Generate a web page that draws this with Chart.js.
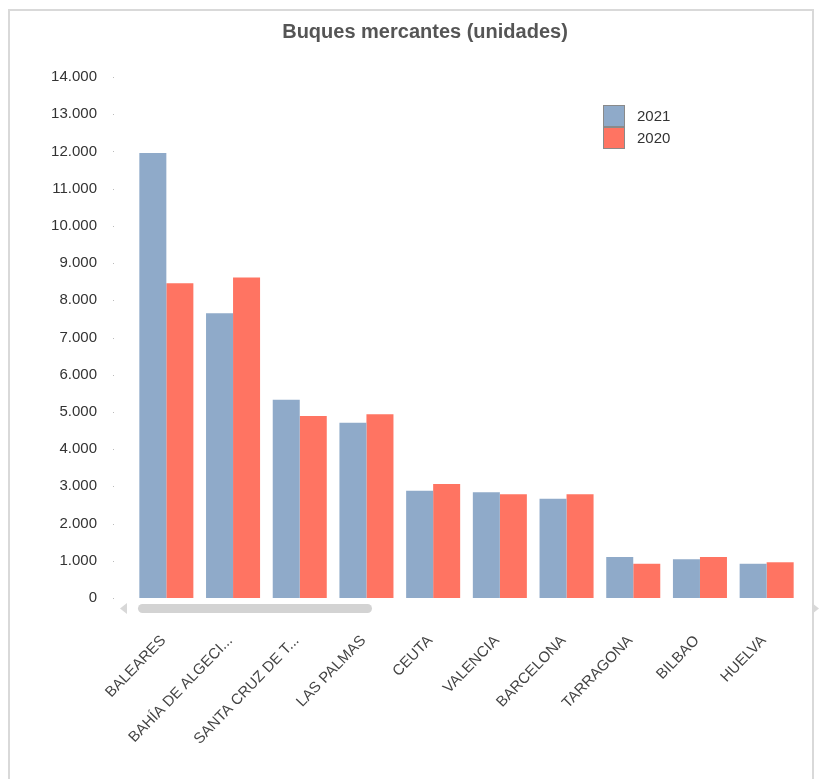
<!DOCTYPE html>
<html>
<head>
<meta charset="utf-8">
<script src="https://cdn.jsdelivr.net/npm/chart.js@4.4.1/dist/chart.umd.min.js"></script>
<style>
html,body{margin:0;padding:0;background:#fff;}
#wrap{position:absolute;left:0;top:0;width:819px;height:779px;}
</style>
</head>
<body>
<div id="wrap"><canvas id="c" width="819" height="779"></canvas></div>
<script>
const categories = ["BALEARES","BAHÍA DE ALGECI...","SANTA CRUZ DE T...","LAS PALMAS","CEUTA","VALENCIA","BARCELONA","TARRAGONA","BILBAO","HUELVA"];
const seriesNames = ["2021","2020"];
const values2021 = [11960,7650,5330,4710,2880,2840,2670,1100,1040,920];
const values2020 = [8460,8610,4890,4940,3060,2790,2790,920,1100,960];
const yTicks = {min:0, max:14000, step:1000};
const chartTitle = "Buques mercantes (unidades)";

function fmt(v){ return String(v).replace(/\B(?=(\d{3})+(?!\d))/g,'.'); }
const FONT = '"Liberation Sans", Arial, sans-serif';

const deco = {
  id:'deco',
  beforeDraw(chart){
    const ctx = chart.ctx;
    ctx.save();
    ctx.fillStyle='#fff';
    ctx.fillRect(0,0,chart.width,chart.height);
    ctx.strokeStyle='#d9d9d9';
    ctx.lineWidth=2;
    ctx.strokeRect(9,10,804,820);
    ctx.restore();
  },
  afterDraw(chart){
    const ctx = chart.ctx;
    const y = chart.scales.y;
    ctx.save();
    ctx.fillStyle='#bbb';
    y.ticks.forEach(t=>{ const py = Math.round(y.getPixelForValue(t.value)); ctx.fillRect(113,py,1,1); });
    const area = chart.chartArea;
    ctx.fillStyle='#d3d3d3';
    const sx=138, sy=area.bottom+6, sw=234, sh=9, r=4.5;
    ctx.beginPath();
    ctx.moveTo(sx+r,sy); ctx.lineTo(sx+sw-r,sy); ctx.arc(sx+sw-r,sy+r,r,-Math.PI/2,Math.PI/2);
    ctx.lineTo(sx+r,sy+sh); ctx.arc(sx+r,sy+r,r,Math.PI/2,Math.PI*1.5); ctx.fill();
    ctx.fillStyle='#d8d8d8';
    ctx.beginPath(); ctx.moveTo(127,sy-1); ctx.lineTo(127,sy+sh+1); ctx.lineTo(120,sy+sh/2); ctx.fill();
    ctx.beginPath(); ctx.moveTo(812,sy-1); ctx.lineTo(812,sy+sh+1); ctx.lineTo(819,sy+sh/2); ctx.fill();
    const ds = chart.data.datasets;
    ctx.font='15px '+FONT;
    ctx.textBaseline='middle';
    ds.forEach((d,i)=>{
      const bx=603, by=105+i*22;
      ctx.fillStyle=d.backgroundColor;
      ctx.fillRect(bx,by,22,22);
      ctx.strokeStyle='#8a8a8a'; ctx.lineWidth=1;
      ctx.strokeRect(bx+0.5,by+0.5,21,21);
      ctx.fillStyle='#333';
      ctx.fillText(d.label, 637, by+12);
    });
    ctx.restore();
  }
};

new Chart(document.getElementById('c'),{
  type:'bar',
  data:{
    labels:categories,
    datasets:[
      {label:seriesNames[0], data:values2021, backgroundColor:'#8FAAC9', borderWidth:0, categoryPercentage:0.81, barPercentage:1},
      {label:seriesNames[1], data:values2020, backgroundColor:'#FF7462', borderWidth:0, categoryPercentage:0.81, barPercentage:1}
    ]
  },
  options:{
    responsive:false,
    animation:false,
    devicePixelRatio:1,
    layout:{padding:{left:50,right:19,top:0,bottom:0}},
    plugins:{
      legend:{display:false},
      tooltip:{enabled:false},
      title:{display:true,text:chartTitle,color:'#555',font:{family:FONT,size:20,weight:'bold'},padding:{top:20,bottom:33}}
    },
    scales:{
      x:{
        grid:{display:false,drawTicks:false},
        border:{display:false},
        ticks:{color:'#444',font:{family:FONT,size:15},maxRotation:46,minRotation:46,padding:34,labelOffset:-3,autoSkip:false},
        afterFit(s){ s.height=181; }
      },
      y:{
        min:yTicks.min,max:yTicks.max,
        grid:{display:false,drawTicks:false},
        border:{display:false},
        ticks:{stepSize:yTicks.step,color:'#333',font:{family:FONT,size:15},padding:36,callback:v=>fmt(v)},
        afterFit(s){ s.width=83; }
      }
    }
  },
  plugins:[deco]
});
</script>
</body>
</html>
